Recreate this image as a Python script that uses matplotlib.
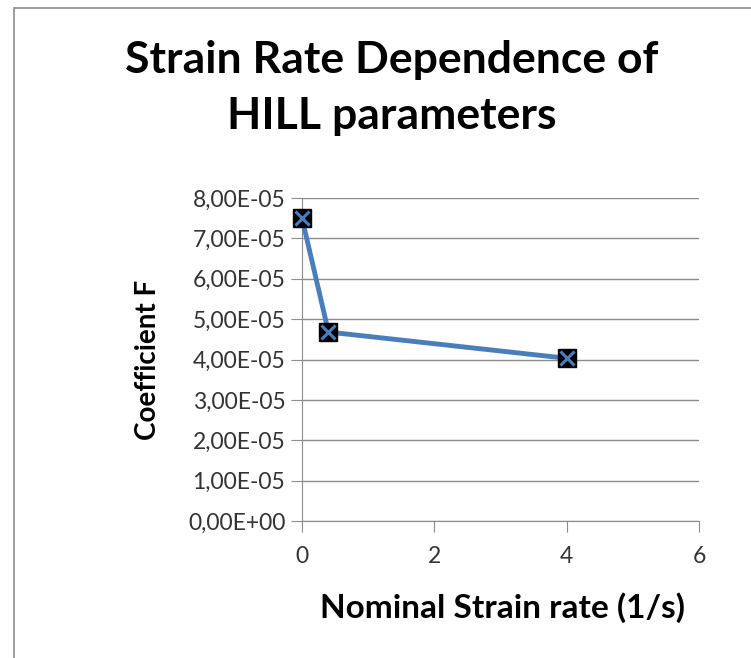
import matplotlib.pyplot as plt
from matplotlib.patches import Rectangle

# strain rate (1/s) vs Hill coefficient F
rates = [0, 0.4, 4]
coef_f = [7.5e-05, 4.68e-05, 4.03e-05]

x_ticks = [0, 2, 4, 6]
y_ticks = [0, 1e-05, 2e-05, 3e-05, 4e-05, 5e-05, 6e-05, 7e-05, 8e-05]

plt.rcParams['font.family'] = ['Lato', 'DejaVu Sans']

fig = plt.figure(figsize=(7.51, 6.58), dpi=100)
ax = fig.add_axes([302/751, 1 - 521/658, 397/751, 323/658])

# chart frame (only top and left edge show)
fig.patches.append(Rectangle((14/751, -0.1), 1.2, (650/658) + 0.1, transform=fig.transFigure,
                             fill=False, edgecolor='#8c8c8c', linewidth=1.2))

line_col = '#4a7ebb'
ax.plot(rates, coef_f, color=line_col, linewidth=3.5, zorder=3, solid_capstyle='round')
ax.plot(rates, coef_f, linestyle='none', marker='s', markersize=13, markerfacecolor='black',
        markeredgecolor='black', zorder=4, clip_on=False)
ax.plot(rates, coef_f, linestyle='none', marker='x', markersize=9.5, markeredgewidth=2.2,
        color=line_col, zorder=5, clip_on=False)

ax.set_xlim(0, 6)
ax.set_ylim(0, 8e-05)
ax.set_xticks(x_ticks)
ax.set_yticks(y_ticks)
ax.set_xticklabels([str(t) for t in x_ticks])
ax.set_yticklabels([('%.2E' % t).replace('.', ',') for t in y_ticks])
ax.grid(axis='y', color='#8c8c8c', linewidth=1)
ax.set_axisbelow(True)
for s in ['top', 'right']:
    ax.spines[s].set_visible(False)
for s in ['left', 'bottom']:
    ax.spines[s].set_color('#8c8c8c')
ax.tick_params(direction='out', length=8, color='#8c8c8c', labelsize=16.5, labelcolor='#333333')
ax.tick_params(axis='x', pad=10)
ax.tick_params(axis='y', pad=4)

ax.set_xlabel('Nominal Strain rate (1/s)', fontsize=24, fontweight='bold')
ax.xaxis.set_label_coords(0.505, -0.22)
ax.set_ylabel('Coefficient F', fontsize=20, fontweight='bold')
ax.yaxis.set_label_coords(-0.355, 0.5)
fig.text(0.522, 0.866, 'Strain Rate Dependence of\nHILL parameters', ha='center', va='center',
         fontsize=32, fontweight='bold', linespacing=1.5)

fig.savefig('out.png', dpi=100)
